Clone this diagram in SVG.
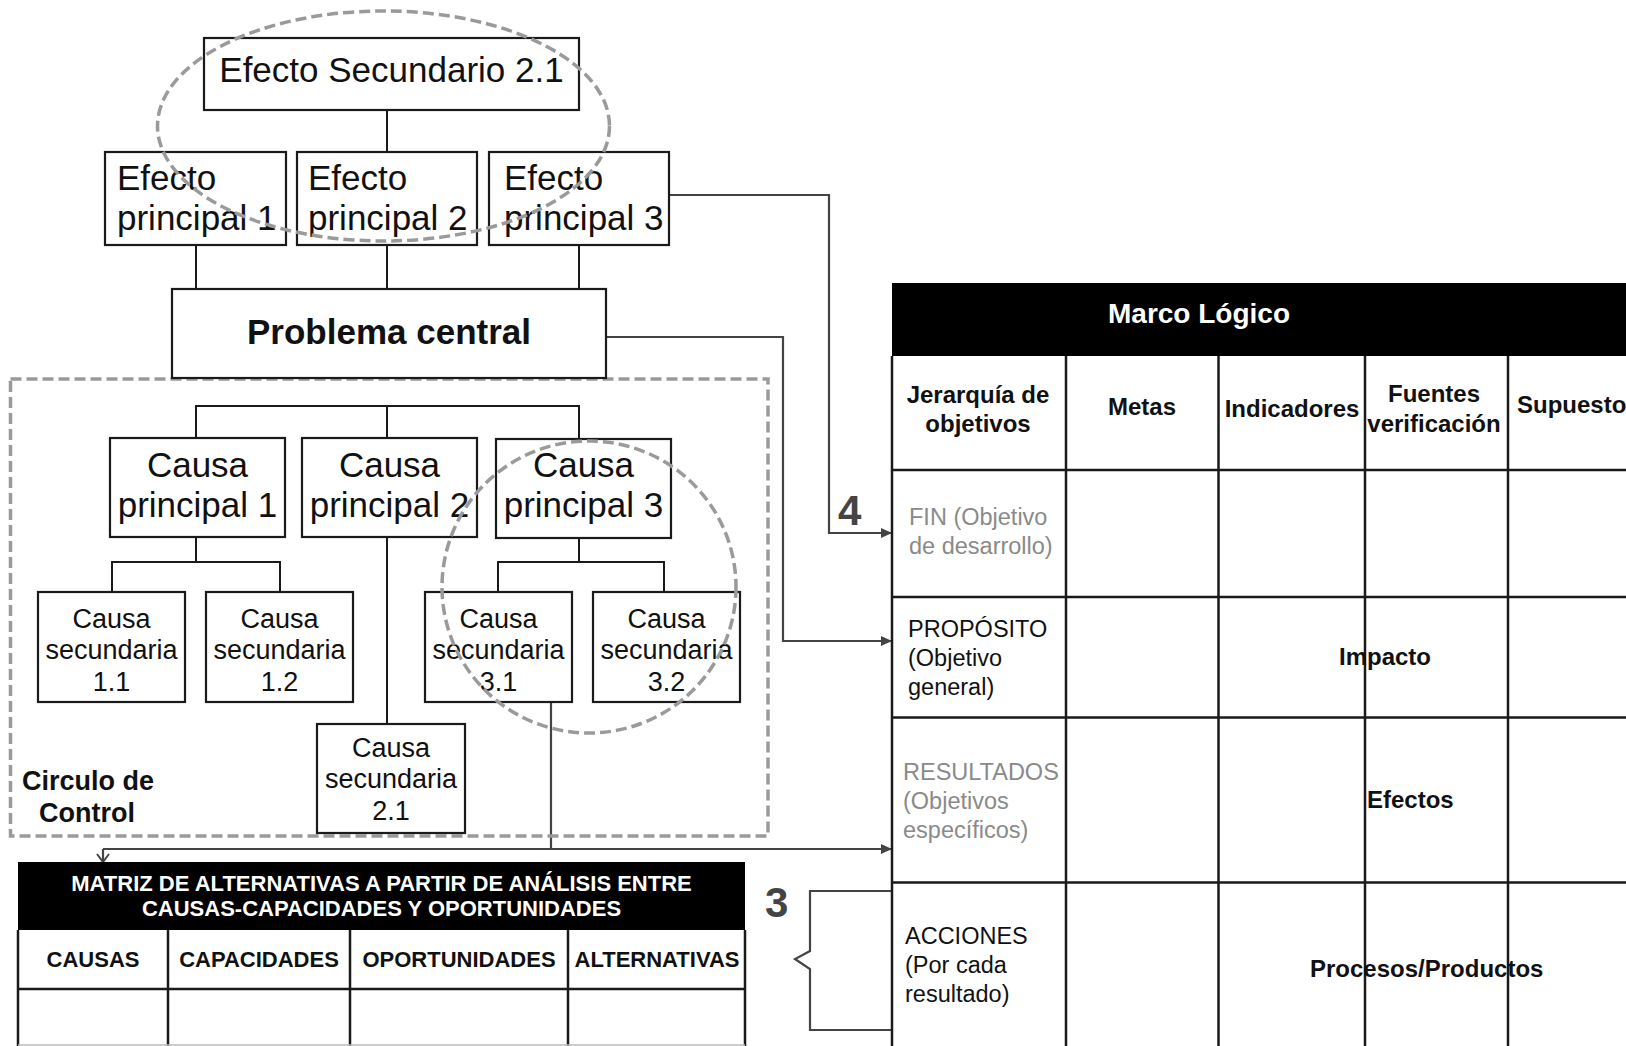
<svg xmlns="http://www.w3.org/2000/svg" width="1626" height="1046" viewBox="0 0 1626 1046">
<defs>
<style>
text{font-family:"Liberation Sans",Arial,sans-serif;fill:#111}
.box{fill:#fff;stroke:#1a1a1a;stroke-width:2.2}
.big{font-size:35px}
.sec{font-size:27px;text-anchor:middle}
.c{text-anchor:middle}
.b{font-weight:bold}
.dash{fill:none;stroke:#9a9a9a;stroke-width:3.5;stroke-dasharray:11 5}
.tl{stroke:#1a1a1a;stroke-width:2;fill:none}
.gl{stroke:#444;stroke-width:2.2;fill:none}
.grid{stroke:#1a1a1a;stroke-width:2.5;fill:none}
.hdr{font-size:22px;font-weight:bold;text-anchor:middle}
.mh{font-size:24px;font-weight:bold;text-anchor:middle}
.row{font-size:23.5px}
.gray{fill:#8a8a8a}
.num{font-size:42px;font-weight:bold;fill:#444}
</style>
<marker id="arr" markerUnits="userSpaceOnUse" markerWidth="11" markerHeight="10" refX="11" refY="5" orient="auto">
<path d="M0,0 L11,5 L0,10 z" fill="#444"/>
</marker>
<marker id="chev" markerUnits="userSpaceOnUse" markerWidth="10" markerHeight="14" refX="9" refY="7" orient="auto">
<path d="M1,1 L9,7 L1,13" fill="none" stroke="#444" stroke-width="2"/>
</marker>
</defs>
<rect width="1626" height="1046" fill="#fff"/>

<g id="connectors">
<path class="tl" d="M387,110 V152"/>
<path class="tl" d="M196,245 V289 M387,245 V289 M579,245 V289"/>
<path class="tl" d="M196,438 V406 H579 V438 M387,406 V438"/>
<path class="tl" d="M196,537 V562 M112,592 V562 H280 V592"/>
<path class="tl" d="M387,537 V724"/>
<path class="tl" d="M579,538 V562 M498,592 V562 H664 V592"/>
<path class="gl" d="M669,195 H829 V533 H892" marker-end="url(#arr)"/>
<path class="gl" d="M606,337 H783 V641 H892" marker-end="url(#arr)"/>
<path class="gl" d="M551,702 V849"/>
<path class="gl" d="M103,849 H892" marker-end="url(#arr)"/>
<path class="gl" d="M103,849 V862" marker-end="url(#chev)"/>
<path class="gl" stroke-width="2.5" d="M892,891 H810 V951 L795,959 L810,969 V1030 H892"/>
</g>

<g id="circulo-control">
<rect class="dash" x="10.5" y="379" width="757.5" height="457"/>
<text class="b" font-size="27" x="22" y="790">Circulo de</text>
<text class="b c" font-size="27" x="87" y="822">Control</text>
</g>

<g id="efecto-secundario-2-1">
<rect class="box" x="204" y="38" width="375" height="72"/>
<text class="big c" x="391.5" y="82">Efecto Secundario 2.1</text>
</g>
<g id="efecto-principal-1">
<rect class="box" x="105" y="152" width="181" height="93"/>
<text class="big" x="117" y="190">Efecto</text>
<text class="big" x="117" y="230">principal 1</text>
</g>
<g id="efecto-principal-2">
<rect class="box" x="297" y="152" width="180" height="93"/>
<text class="big" x="308" y="190">Efecto</text>
<text class="big" x="308" y="230">principal 2</text>
</g>
<g id="efecto-principal-3">
<rect class="box" x="489" y="152" width="180" height="93"/>
<text class="big" x="504" y="190">Efecto</text>
<text class="big" x="504" y="230">principal 3</text>
</g>
<g id="problema-central">
<rect class="box" x="172" y="289" width="434" height="89"/>
<text class="big b c" x="389" y="344">Problema central</text>
</g>

<g id="causa-principal-1">
<rect class="box" x="110" y="438" width="175" height="99"/>
<text class="big c" x="197.5" y="477">Causa</text>
<text class="big c" x="197.5" y="517">principal 1</text>
</g>
<g id="causa-principal-2">
<rect class="box" x="302" y="438" width="175" height="99"/>
<text class="big c" x="389.5" y="477">Causa</text>
<text class="big c" x="389.5" y="517">principal 2</text>
</g>
<g id="causa-principal-3">
<rect class="box" x="496" y="439" width="175" height="99"/>
<text class="big c" x="583.5" y="477">Causa</text>
<text class="big c" x="583.5" y="517">principal 3</text>
</g>

<g id="causa-secundaria-1-1">
<rect class="box" x="38" y="592" width="147" height="110"/>
<text class="sec" x="111.5" y="628">Causa</text>
<text class="sec" x="111.5" y="659">secundaria</text>
<text class="sec" x="111.5" y="691">1.1</text>
</g>
<g id="causa-secundaria-1-2">
<rect class="box" x="206" y="592" width="147" height="110"/>
<text class="sec" x="279.5" y="628">Causa</text>
<text class="sec" x="279.5" y="659">secundaria</text>
<text class="sec" x="279.5" y="691">1.2</text>
</g>
<g id="causa-secundaria-3-1">
<rect class="box" x="425" y="592" width="147" height="110"/>
<text class="sec" x="498.5" y="628">Causa</text>
<text class="sec" x="498.5" y="659">secundaria</text>
<text class="sec" x="498.5" y="691">3.1</text>
</g>
<g id="causa-secundaria-3-2">
<rect class="box" x="593" y="592" width="147" height="110"/>
<text class="sec" x="666.5" y="628">Causa</text>
<text class="sec" x="666.5" y="659">secundaria</text>
<text class="sec" x="666.5" y="691">3.2</text>
</g>
<g id="causa-secundaria-2-1">
<rect class="box" x="317" y="724" width="148" height="109"/>
<text class="sec" x="391" y="757">Causa</text>
<text class="sec" x="391" y="788">secundaria</text>
<text class="sec" x="391" y="820">2.1</text>
</g>

<g id="highlights">
<ellipse class="dash" cx="383.5" cy="126" rx="226" ry="115"/>
<ellipse class="dash" cx="589" cy="587" rx="147" ry="146"/>
</g>

<g id="matriz-alternativas">
<rect x="18" y="862" width="727" height="68" fill="#000"/>
<text class="hdr" x="381.5" y="891" style="fill:#fff">MATRIZ DE ALTERNATIVAS A PARTIR DE ANÁLISIS ENTRE</text>
<text class="hdr" x="381.5" y="916" style="fill:#fff">CAUSAS-CAPACIDADES Y OPORTUNIDADES</text>
<path class="grid" d="M18,930 V1046 M745,930 V1046 M168,930 V1046 M350,930 V1046 M568,930 V1046"/>
<path class="grid" stroke-width="3" d="M18,989 H745"/>
<path d="M18,1045 H745" stroke="#bbb" stroke-width="1.5"/>
<text class="hdr" x="93" y="967">CAUSAS</text>
<text class="hdr" x="259" y="967">CAPACIDADES</text>
<text class="hdr" x="459" y="967">OPORTUNIDADES</text>
<text class="hdr" x="657" y="967">ALTERNATIVAS</text>
</g>

<g id="label-3"><text class="num" x="765" y="917">3</text></g>
<g id="label-4"><text class="num" x="838" y="525">4</text></g>

<g id="marco-logico">
<rect x="892" y="283" width="740" height="73" fill="#000"/>
<text class="b c" font-size="28" x="1199" y="323" style="fill:#fff">Marco Lógico</text>
<path class="grid" d="M892,356 V1046 M1066,356 V1046 M1218.5,356 V1046 M1365,356 V1046 M1508,356 V1046"/>
<path class="grid" d="M892,470 H1626 M892,597 H1626 M892,717.5 H1626 M892,882.5 H1626"/>
<text class="mh" x="978" y="403">Jerarquía de</text>
<text class="mh" x="978" y="432">objetivos</text>
<text class="mh" x="1142" y="415">Metas</text>
<text class="mh" x="1292" y="417">Indicadores</text>
<text class="mh" x="1434" y="402">Fuentes</text>
<text class="mh" x="1434" y="432">verificación</text>
<text class="b" font-size="24" x="1517" y="413">Supuesto</text>
<text class="row gray" x="909" y="525">FIN (Objetivo</text>
<text class="row gray" x="909" y="554">de desarrollo)</text>
<text class="row" x="908" y="637">PROPÓSITO</text>
<text class="row" x="908" y="666">(Objetivo</text>
<text class="row" x="908" y="695">general)</text>
<text class="row gray" x="903" y="780">RESULTADOS</text>
<text class="row gray" x="903" y="809">(Objetivos</text>
<text class="row gray" x="903" y="838">específicos)</text>
<text class="row" x="905" y="944">ACCIONES</text>
<text class="row" x="905" y="973">(Por cada</text>
<text class="row" x="905" y="1002">resultado)</text>
<text class="b" font-size="24" x="1339" y="665">Impacto</text>
<text class="b" font-size="24" x="1367" y="808">Efectos</text>
<text class="b" font-size="24" x="1310" y="977">Procesos/Productos</text>
</g>
</svg>
